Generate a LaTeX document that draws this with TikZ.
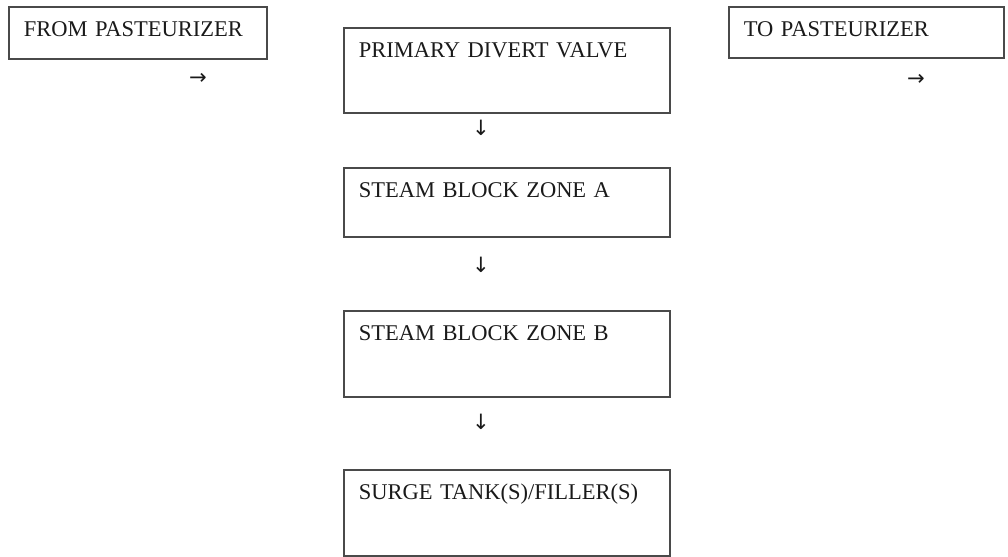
\documentclass[tikz,border=0pt]{standalone}
\usepackage{fontspec}
\setmainfont{Liberation Serif}
\newfontfamily\glyphfont{DejaVu Sans}
\usepackage{xcolor}
\usepackage{tikz}
\usetikzlibrary{positioning}
\definecolor{boxline}{HTML}{4A4A4A}
\definecolor{textblack}{HTML}{1A1A1A}

\begin{document}
\begin{tikzpicture}[
  x=0.025cm,
  y=-0.025cm,
  font=\fontsize{16}{19}\selectfont,
  stagebox/.style={draw=boxline, line width=1.1pt, anchor=north west,
    align=left, text=textblack, inner xsep=0.375cm, inner ysep=0pt,
    text height=0.75cm},
  flowglyph/.style={text=textblack, inner sep=0pt,
    font=\glyphfont\fontsize{15}{18}\selectfont}
]
\useasboundingbox (0,0) rectangle (1008,557);

% Side boxes
\node[stagebox, text width=5.7cm, text depth=0.55cm] (frompast) at (8,6)
      {FROM PASTEURIZER};
\node[stagebox, text width=6.125cm, text depth=0.525cm] (topast) at (728,6)
      {TO PASTEURIZER};
\node[flowglyph] (fromarrow) at (198,79) {→};
\node[flowglyph] (toarrow) at (916,80) {→};

% Main column
\node[stagebox, text width=7.4cm, text depth=1.375cm] (valve) at (343,27)
      {PRIMARY DIVERT VALVE};
\node[stagebox, text width=7.4cm, text depth=0.975cm] (zonea) at (343,167)
      {STEAM BLOCK ZONE A};
\node[stagebox, text width=7.4cm, text depth=1.4cm] (zoneb) at (343,310)
      {STEAM BLOCK ZONE B};
\node[stagebox, text width=7.4cm, text depth=1.4cm] (surge) at (343,469)
      {SURGE TANK(S)/FILLER(S)};

\node[flowglyph] (downa) at (481,128) {↓};
\node[flowglyph] (downb) at (481,265) {↓};
\node[flowglyph] (downc) at (481,422) {↓};
\end{tikzpicture}
\end{document}
